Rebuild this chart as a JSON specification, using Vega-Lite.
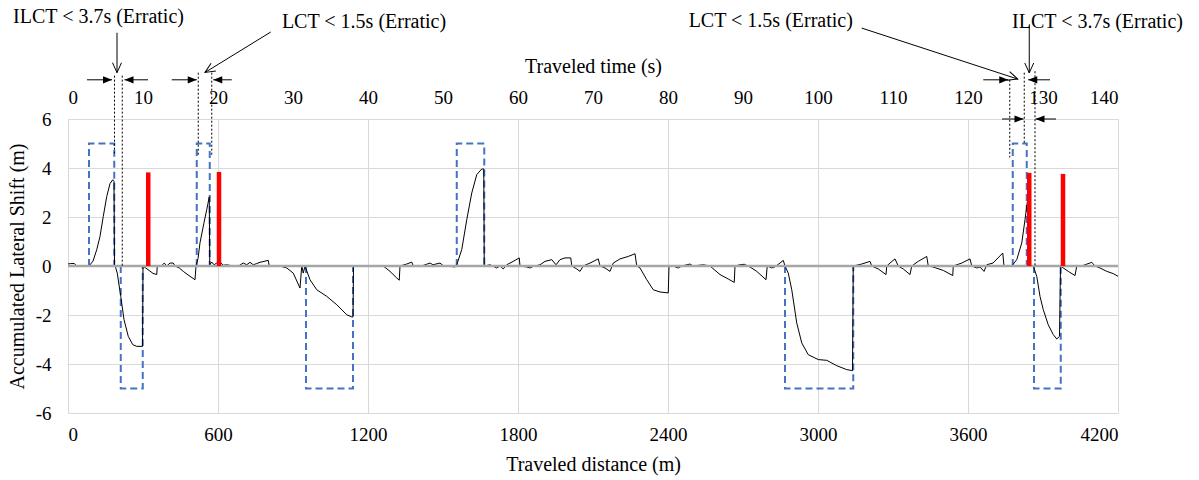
{
  "$schema": "https://vega.github.io/schema/vega-lite/v6.json",
  "width": 1050,
  "height": 294,
  "autosize": "none",
  "padding": {"left": 68, "top": 119, "right": 81, "bottom": 67},
  "background": "white",
  "config": {
    "font": "Liberation Serif",
    "view": {"stroke": null},
    "axis": {
      "labelFont": "Liberation Serif", "titleFont": "Liberation Serif",
      "labelColor": "#000", "titleColor": "#000", "titleFontWeight": "normal",
      "labelFontSize": 19, "titleFontSize": 20, "gridColor": "#d9d9d9", "gridWidth": 1,
      "domain": false, "ticks": false, "tickSize": 0
    }
  },
  "datasets": {
    "lat": [
      {"d":0,"s":0.08},{"d":10,"s":0.1},{"d":25,"s":0.1},{"d":35,"s":0.0},{"d":60,"s":0.0},{"d":84,"s":0.0},{"d":100,"s":0.2},{"d":115,"s":0.67},{"d":128,"s":1.21},{"d":141,"s":2.02},{"d":155,"s":2.84},{"d":168,"s":3.36},{"d":179,"s":3.52},{"d":184,"s":3.45},{"d":186,"s":0.0},{"d":190,"s":-0.05},{"d":197,"s":-0.29},{"d":211,"s":-1.24},{"d":224,"s":-2.19},{"d":241,"s":-2.87},{"d":259,"s":-3.21},{"d":275,"s":-3.28},{"d":298,"s":-3.28},{"d":300,"s":0.0},{"d":320,"s":-0.15},{"d":340,"s":-0.3},{"d":355,"s":-0.35},{"d":357,"s":0.0},{"d":375,"s":0.02},{"d":385,"s":0.12},{"d":395,"s":0.0},{"d":408,"s":0.12},{"d":421,"s":0.12},{"d":428,"s":0.0},{"d":445,"s":-0.08},{"d":461,"s":-0.22},{"d":488,"s":-0.42},{"d":508,"s":-0.56},{"d":512,"s":0.0},{"d":520,"s":0.3},{"d":528,"s":0.95},{"d":544,"s":1.77},{"d":555,"s":2.3},{"d":565,"s":2.82},{"d":567,"s":0.05},{"d":575,"s":0.16},{"d":584,"s":0.05},{"d":595,"s":0.12},{"d":608,"s":0.16},{"d":621,"s":0.03},{"d":635,"s":0.05},{"d":661,"s":0.0},{"d":685,"s":0.02},{"d":701,"s":0.12},{"d":715,"s":0.05},{"d":728,"s":0.15},{"d":741,"s":0.05},{"d":755,"s":0.1},{"d":768,"s":0.15},{"d":801,"s":0.23},{"d":805,"s":0.0},{"d":848,"s":0.0},{"d":875,"s":-0.08},{"d":901,"s":-0.29},{"d":928,"s":-0.9},{"d":935,"s":0.0},{"d":941,"s":-0.29},{"d":948,"s":0.0},{"d":968,"s":-0.56},{"d":995,"s":-0.97},{"d":1035,"s":-1.24},{"d":1075,"s":-1.58},{"d":1115,"s":-1.99},{"d":1135,"s":-2.08},{"d":1140,"s":-2.08},{"d":1142,"s":0.0},{"d":1261,"s":0.0},{"d":1288,"s":-0.22},{"d":1315,"s":-0.49},{"d":1325,"s":-0.58},{"d":1328,"s":0.0},{"d":1355,"s":0.08},{"d":1375,"s":0.16},{"d":1381,"s":0.0},{"d":1420,"s":0.02},{"d":1448,"s":0.12},{"d":1460,"s":0.05},{"d":1488,"s":0.12},{"d":1500,"s":0.02},{"d":1548,"s":-0.04},{"d":1555,"s":0.05},{"d":1575,"s":0.67},{"d":1595,"s":1.89},{"d":1615,"s":2.98},{"d":1635,"s":3.73},{"d":1655,"s":3.96},{"d":1663,"s":3.96},{"d":1665,"s":0.0},{"d":1688,"s":0.05},{"d":1715,"s":-0.08},{"d":1728,"s":0.0},{"d":1741,"s":-0.12},{"d":1755,"s":0.05},{"d":1781,"s":0.19},{"d":1805,"s":0.33},{"d":1808,"s":0.0},{"d":1835,"s":-0.04},{"d":1848,"s":-0.08},{"d":1860,"s":-0.02},{"d":1888,"s":0.05},{"d":1908,"s":0.19},{"d":1935,"s":0.26},{"d":1952,"s":0.05},{"d":1968,"s":0.26},{"d":1988,"s":0.33},{"d":2011,"s":0.33},{"d":2015,"s":0.0},{"d":2035,"s":-0.12},{"d":2048,"s":-0.22},{"d":2061,"s":0.0},{"d":2088,"s":0.12},{"d":2121,"s":0.29},{"d":2128,"s":0.0},{"d":2148,"s":-0.08},{"d":2168,"s":-0.22},{"d":2181,"s":0.12},{"d":2208,"s":0.29},{"d":2241,"s":0.39},{"d":2268,"s":0.5},{"d":2275,"s":0.0},{"d":2288,"s":-0.08},{"d":2315,"s":-0.56},{"d":2341,"s":-0.97},{"d":2368,"s":-1.06},{"d":2401,"s":-1.1},{"d":2404,"s":0.0},{"d":2420,"s":0.0},{"d":2441,"s":-0.08},{"d":2455,"s":0.0},{"d":2488,"s":0.08},{"d":2500,"s":0.0},{"d":2541,"s":0.05},{"d":2568,"s":0.0},{"d":2608,"s":-0.35},{"d":2641,"s":-0.53},{"d":2665,"s":-0.67},{"d":2668,"s":0.0},{"d":2688,"s":0.05},{"d":2705,"s":0.07},{"d":2728,"s":-0.04},{"d":2755,"s":-0.22},{"d":2792,"s":-0.56},{"d":2797,"s":0.0},{"d":2815,"s":-0.08},{"d":2830,"s":-0.02},{"d":2848,"s":0.12},{"d":2861,"s":0.23},{"d":2868,"s":0.0},{"d":2881,"s":-0.29},{"d":2895,"s":-0.97},{"d":2915,"s":-2.33},{"d":2935,"s":-3.14},{"d":2961,"s":-3.62},{"d":3001,"s":-3.82},{"d":3035,"s":-3.85},{"d":3075,"s":-4.07},{"d":3115,"s":-4.23},{"d":3138,"s":-4.27},{"d":3141,"s":0.0},{"d":3175,"s":0.08},{"d":3208,"s":0.19},{"d":3215,"s":0.0},{"d":3241,"s":-0.12},{"d":3272,"s":-0.35},{"d":3275,"s":0.0},{"d":3288,"s":0.12},{"d":3308,"s":0.29},{"d":3321,"s":0.0},{"d":3341,"s":-0.12},{"d":3368,"s":-0.35},{"d":3375,"s":0.0},{"d":3401,"s":0.19},{"d":3435,"s":0.39},{"d":3441,"s":0.0},{"d":3460,"s":-0.04},{"d":3501,"s":-0.18},{"d":3539,"s":-0.39},{"d":3541,"s":0.0},{"d":3575,"s":0.12},{"d":3608,"s":0.29},{"d":3615,"s":0.0},{"d":3635,"s":-0.08},{"d":3648,"s":-0.04},{"d":3664,"s":-0.22},{"d":3675,"s":0.05},{"d":3700,"s":0.12},{"d":3739,"s":0.53},{"d":3744,"s":0.0},{"d":3775,"s":0.0},{"d":3795,"s":0.26},{"d":3815,"s":0.94},{"d":3828,"s":1.89},{"d":3837,"s":2.6},{"d":3842,"s":2.8},{"d":3845,"s":0.0},{"d":3861,"s":0.0},{"d":3875,"s":-0.42},{"d":3888,"s":-1.24},{"d":3901,"s":-1.78},{"d":3921,"s":-2.4},{"d":3941,"s":-2.8},{"d":3955,"s":-2.98},{"d":3966,"s":-2.87},{"d":3970,"s":0.0},{"d":4001,"s":-0.22},{"d":4028,"s":-0.39},{"d":4035,"s":0.0},{"d":4060,"s":0.02},{"d":4095,"s":0.15},{"d":4108,"s":0.0},{"d":4128,"s":-0.08},{"d":4155,"s":-0.22},{"d":4181,"s":-0.31},{"d":4200,"s":-0.42}
    ],
    "lc": [
      {"g":1,"o":1,"d":84,"v":0},{"g":1,"o":2,"d":84,"v":5},{"g":1,"o":3,"d":185,"v":5},{"g":1,"o":4,"d":185,"v":0},
      {"g":2,"o":1,"d":211,"v":0},{"g":2,"o":2,"d":211,"v":-5},{"g":2,"o":3,"d":299,"v":-5},{"g":2,"o":4,"d":299,"v":0},
      {"g":3,"o":1,"d":515,"v":0},{"g":3,"o":2,"d":515,"v":5},{"g":3,"o":3,"d":567,"v":5},{"g":3,"o":4,"d":567,"v":0},
      {"g":4,"o":1,"d":952,"v":0},{"g":4,"o":2,"d":952,"v":-5},{"g":4,"o":3,"d":1140,"v":-5},{"g":4,"o":4,"d":1140,"v":0},
      {"g":5,"o":1,"d":1555,"v":0},{"g":5,"o":2,"d":1555,"v":5},{"g":5,"o":3,"d":1665,"v":5},{"g":5,"o":4,"d":1665,"v":0},
      {"g":6,"o":1,"d":2868,"v":0},{"g":6,"o":2,"d":2868,"v":-5},{"g":6,"o":3,"d":3141,"v":-5},{"g":6,"o":4,"d":3141,"v":0},
      {"g":7,"o":1,"d":3779,"v":0},{"g":7,"o":2,"d":3779,"v":5},{"g":7,"o":3,"d":3835,"v":5},{"g":7,"o":4,"d":3835,"v":0},
      {"g":8,"o":1,"d":3864,"v":0},{"g":8,"o":2,"d":3864,"v":-5},{"g":8,"o":3,"d":3971,"v":-5},{"g":8,"o":4,"d":3971,"v":0}
    ],
    "red": [{"d":321,"v":3.82},{"d":604,"v":3.84},{"d":3845,"v":3.8},{"d":3980,"v":3.76}],
    "notes": [
      {"t":"ILCT < 3.7s (Erratic)","d":122,"v":10.15},
      {"t":"LCT < 1.5s (Erratic)","d":1184,"v":9.97},
      {"t":"LCT < 1.5s (Erratic)","d":2811,"v":10.0},
      {"t":"ILCT < 3.7s (Erratic)","d":4118,"v":9.97}
    ],
    "dots": [
      {"d":186,"v":7.77,"v2":4.6},{"d":217,"v":7.77,"v2":0},
      {"d":521,"v":7.89,"v2":4.47},{"d":575,"v":7.89,"v2":4.47},
      {"d":3767,"v":7.6,"v2":4.43},{"d":3825,"v":7.89,"v2":5.02},{"d":3868,"v":7.95,"v2":0}
    ],
    "arrows": [
      {"d":196,"v":9.52,"d2":196,"v2":7.89,"h":"down"},
      {"d":811,"v":9.55,"d2":548,"v2":7.9,"h":"dl"},
      {"d":3175,"v":9.71,"d2":3799,"v2":7.63,"h":"dr"},
      {"d":3845,"v":9.81,"d2":3845,"v2":7.88,"h":"down"},
      {"d":76,"v":7.6,"d2":176,"v2":7.6,"h":"right"},
      {"d":320,"v":7.6,"d2":226,"v2":7.6,"h":"left"},
      {"d":415,"v":7.6,"d2":515,"v2":7.6,"h":"right"},
      {"d":655,"v":7.6,"d2":581,"v2":7.6,"h":"left"},
      {"d":3661,"v":7.6,"d2":3761,"v2":7.6,"h":"right"},
      {"d":3928,"v":7.6,"d2":3841,"v2":7.6,"h":"left"},
      {"d":3736,"v":6.0,"d2":3822,"v2":6.0,"h":"right"},
      {"d":3952,"v":6.0,"d2":3870,"v2":6.0,"h":"left"}
    ]
  },
  "layer": [
    {
      "data": {"name":"lc"},
      "mark": {"type":"line","color":"#4472c4","strokeWidth":2,"strokeDash":[7,4]},
      "encoding": {
        "x": {"field":"d","type":"quantitative","scale":{"domain":[0,4200],"nice":false},
              "axis":{"orient":"top","values":[0,300,600,900,1200,1500,1800,2100,2400,2700,3000,3300,3600,3900,4200],"labelExpr":"format(datum.value/30,'d')","labelFont":"Liberation Serif","labelFontSize":19,"grid":false,"labelPadding":12,"title":"Traveled time (s)","titleFont":"Liberation Serif","titlePadding":12}},
        "y": {"field":"v","type":"quantitative","scale":{"domain":[-6,6],"nice":false},"axis":null},
        "detail": {"field":"g"},
        "order": {"field":"o"}
      }
    },
    {
      "data": {"name":"lat"},
      "mark": {"type":"line","color":"#000","strokeWidth":1},
      "encoding": {
        "x": {"field":"d","type":"quantitative","scale":{"domain":[0,4200],"nice":false},"axis":null},
        "y": {"field":"s","type":"quantitative","scale":{"domain":[-6,6],"nice":false},"axis":null}
      }
    },
    {
      "data": {"values": [{"a":0,"b":4200,"z":0}]},
      "mark": {"type":"rule","color":"#a6a6a6","strokeWidth":2.5},
      "encoding": {
        "x": {"field":"a","type":"quantitative","scale":{"domain":[0,4200],"nice":false},
              "axis":{"orient":"bottom","values":[0,600,1200,1800,2400,3000,3600,4200],"format":"d","labelFont":"Liberation Serif","labelFontSize":19,"grid":true,"labelPadding":12,"title":"Traveled distance (m)","titleFont":"Liberation Serif","titlePadding":10}},
        "x2": {"field":"b"},
        "y": {"field":"z","type":"quantitative","scale":{"domain":[-6,6],"nice":false},
              "axis":{"values":[-6,-4,-2,0,2,4,6],"labelExpr":"'' + datum.value","labelFont":"Liberation Serif","labelFontSize":19,"grid":true,"labelPadding":17,"title":"Accumulated Lateral Shift (m)","titleFont":"Liberation Serif","titlePadding":8}}
      }
    },
    {
      "data": {"name":"red"},
      "mark": {"type":"rule","color":"#ff0000","strokeWidth":4.5},
      "encoding": {
        "x": {"field":"d","type":"quantitative","scale":{"domain":[0,4200],"nice":false},"axis":null},
        "y": {"field":"v","type":"quantitative","scale":{"domain":[-6,6],"nice":false},"axis":null},
        "y2": {"datum":0}
      }
    },
    {
      "data": {"name":"dots"},
      "mark": {"type":"rule","color":"#000","strokeWidth":1,"strokeDash":[2,2]},
      "encoding": {
        "x": {"field":"d","type":"quantitative","scale":{"domain":[0,4200],"nice":false},"axis":null},
        "y": {"field":"v","type":"quantitative","scale":{"domain":[-6,6],"nice":false},"axis":null},
        "y2": {"field":"v2"}
      }
    },
    {
      "data": {"name":"arrows"},
      "mark": {"type":"rule","color":"#000","strokeWidth":1},
      "encoding": {
        "x": {"field":"d","type":"quantitative","scale":{"domain":[0,4200],"nice":false},"axis":null},
        "y": {"field":"v","type":"quantitative","scale":{"domain":[-6,6],"nice":false},"axis":null},
        "x2": {"field":"d2"},
        "y2": {"field":"v2"}
      }
    },
    {
      "data": {"name":"arrows"},
      "transform": [{"filter":"datum.h == 'right'"}],
      "mark": {"type":"point","shape":"M-0.4,-1L0,0L0.4,-1Z","filled":true,"color":"#000","opacity":1,"size":324,"angle":270},
      "encoding": {
        "x": {"field":"d2","type":"quantitative","scale":{"domain":[0,4200],"nice":false},"axis":null},
        "y": {"field":"v2","type":"quantitative","scale":{"domain":[-6,6],"nice":false},"axis":null}
      }
    },
    {
      "data": {"name":"arrows"},
      "transform": [{"filter":"datum.h == 'left'"}],
      "mark": {"type":"point","shape":"M-0.4,-1L0,0L0.4,-1Z","filled":true,"color":"#000","opacity":1,"size":324,"angle":90},
      "encoding": {
        "x": {"field":"d2","type":"quantitative","scale":{"domain":[0,4200],"nice":false},"axis":null},
        "y": {"field":"v2","type":"quantitative","scale":{"domain":[-6,6],"nice":false},"axis":null}
      }
    },
    {
      "data": {"name":"arrows"},
      "transform": [{"filter":"datum.h == 'down'"}],
      "mark": {"type":"point","shape":"M-0.45,-1L0,0L0.45,-1","filled":false,"color":"#000","opacity":1,"strokeWidth":1,"size":400,"angle":0},
      "encoding": {
        "x": {"field":"d2","type":"quantitative","scale":{"domain":[0,4200],"nice":false},"axis":null},
        "y": {"field":"v2","type":"quantitative","scale":{"domain":[-6,6],"nice":false},"axis":null}
      }
    },
    {
      "data": {"name":"arrows"},
      "transform": [{"filter":"datum.h == 'dl'"}],
      "mark": {"type":"point","shape":"M-0.45,-1L0,0L0.45,-1","filled":false,"color":"#000","opacity":1,"strokeWidth":1,"size":400,"angle":58},
      "encoding": {
        "x": {"field":"d2","type":"quantitative","scale":{"domain":[0,4200],"nice":false},"axis":null},
        "y": {"field":"v2","type":"quantitative","scale":{"domain":[-6,6],"nice":false},"axis":null}
      }
    },
    {
      "data": {"name":"arrows"},
      "transform": [{"filter":"datum.h == 'dr'"}],
      "mark": {"type":"point","shape":"M-0.45,-1L0,0L0.45,-1","filled":false,"color":"#000","opacity":1,"strokeWidth":1,"size":400,"angle":288},
      "encoding": {
        "x": {"field":"d2","type":"quantitative","scale":{"domain":[0,4200],"nice":false},"axis":null},
        "y": {"field":"v2","type":"quantitative","scale":{"domain":[-6,6],"nice":false},"axis":null}
      }
    },
    {
      "data": {"name":"notes"},
      "mark": {"type":"text","font":"Liberation Serif","fontSize":20,"color":"#000","align":"center","baseline":"middle"},
      "encoding": {
        "x": {"field":"d","type":"quantitative","scale":{"domain":[0,4200],"nice":false},"axis":null},
        "y": {"field":"v","type":"quantitative","scale":{"domain":[-6,6],"nice":false},"axis":null},
        "text": {"field":"t"}
      }
    }
  ],
  "resolve": {"axis": {"x":"independent","y":"independent"}}
}
